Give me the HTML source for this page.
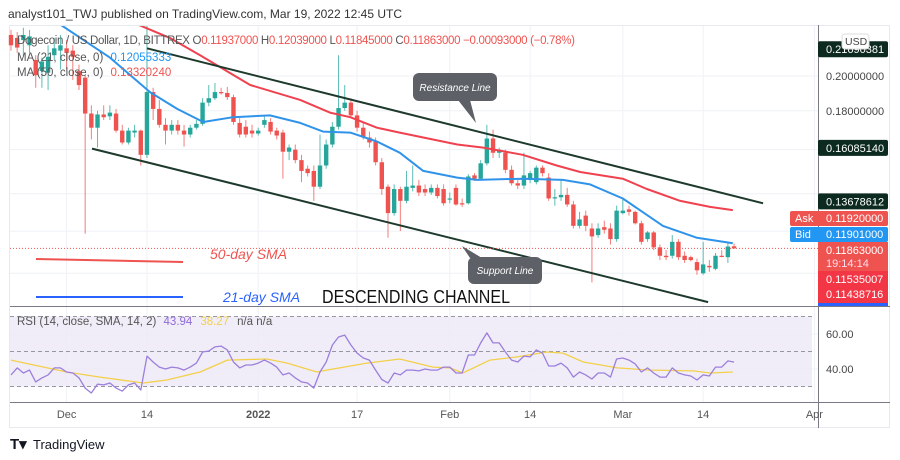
<!DOCTYPE html>
<html><head><meta charset="utf-8"><style>
body{margin:0;background:#fff;width:900px;height:460px;overflow:hidden;font-family:"Liberation Sans",sans-serif}
svg{display:block}
</style></head><body>
<svg id="chart" width="900" height="460" viewBox="0 0 900 460" xmlns="http://www.w3.org/2000/svg" font-family="Liberation Sans, sans-serif">
<text x="8" y="18" font-size="12" fill="#333">analyst101_TWJ published on TradingView.com, Mar 19, 2022 12:45 UTC</text>
<rect x="9.5" y="25.5" width="880" height="402" fill="none" stroke="#e6e9ef"/>
<g id="grid"></g>
<rect x="10" y="316.5" width="802" height="70" fill="#ede9f6" opacity="0.8"/>
<g id="marks"></g>
<g id="overlay"></g>
<line x1="818.5" y1="25" x2="818.5" y2="428" stroke="#787b86" stroke-width="1"/>
<line x1="10" y1="306.5" x2="890" y2="306.5" stroke="#787b86" stroke-width="1"/>
<line x1="10" y1="402.5" x2="890" y2="402.5" stroke="#787b86" stroke-width="1"/>
<g id="axis"></g>
<g font-size="11.5">
<text x="17" y="44" fill="#555" textLength="558" lengthAdjust="spacing">Dogecoin / US Dollar, 1D, BITTREX  O<tspan fill="#ef5350">0.11937000</tspan>  H<tspan fill="#ef5350">0.12039000</tspan>  L<tspan fill="#ef5350">0.11845000</tspan>  C<tspan fill="#ef5350">0.11863000  −0.00093000 (−0.78%)</tspan></text>
<text x="17" y="61" fill="#555">MA (21, close, 0) <tspan fill="#2196f3" dx="4">0.12055333</tspan></text>
<text x="17" y="76" fill="#555">MA (50, close, 0) <tspan fill="#ef5350" dx="4">0.13320240</tspan></text>
<text x="17" y="325" fill="#555">RSI (14, close, SMA, 14, 2) <tspan fill="#8e6bd6" dx="4">43.94</tspan><tspan fill="#f2d04a" dx="8">38.27</tspan><tspan dx="8">n/a  n/a</tspan></text>
</g>
<g>
<path d="M458 100 L476 123 L470 100 Z" fill="#5d6066"/>
<rect x="413" y="73" width="84" height="28" rx="6" fill="#5d6066"/>
<text x="455" y="91" font-size="10" font-style="italic" fill="#fff" text-anchor="middle">Resistance Line</text>
</g>
<g>
<path d="M462 246 L470 258 L482 258 Z" fill="#5d6066"/>
<rect x="468" y="257" width="74" height="27" rx="6" fill="#5d6066"/>
<text x="505" y="274" font-size="10" font-style="italic" fill="#fff" text-anchor="middle">Support Line</text>
</g>
<line x1="36" y1="259" x2="183" y2="262" stroke="#ef5350" stroke-width="2"/>
<line x1="36" y1="297" x2="183" y2="297" stroke="#2962ff" stroke-width="2"/>
<text x="210" y="259" font-size="14" font-style="italic" fill="#ef5350">50-day SMA</text>
<text x="223" y="302" font-size="14" font-style="italic" fill="#2962ff">21-day SMA</text>
<text x="322" y="303" font-size="18" fill="#111" textLength="188" lengthAdjust="spacingAndGlyphs">DESCENDING CHANNEL</text>
<g>
<text x="10" y="449" font-size="15" font-weight="bold" fill="#131722">T▾</text>
<text x="33" y="449" font-size="13" fill="#131722">TradingView</text>
</g>
</svg>
<script>
// ===== data =====
const ohlcOpen  = [.2265,.2245,.223,.2195,.210,.203,.202,.213,.216,.2175,.216,.203,.199,.1785,.171,.178,.177,.1785,.1695,.1635,.1685,.1695,.1575,.1905,.181,.1725,.1695,.1725,.1695,.1675,.171,.173,.1845,.187,.1905,.190,.1876,.1735,.1715,.1695,.168,.1725,.174,.1695,.1685,.159,.160,.155,.151,.150,.143,.1525,.1625,.1715,.1815,.1845,.1775,.171,.166,.164,.154,.143,.132,.142,.137,.1425,.1435,.142,.1405,.1425,.142,.1375,.1425,.136,.136,.148,.1465,.1535,.1655,.1585,.1585,.1505,.1445,.1435,.146,.145,.1515,.147,.138,.1385,.1395,.1355,.127,.131,.126,.1235,.1265,.126,.122,.132,.1335,.1325,.128,.122,.1245,.119,.116,.116,.121,.116,.1155,.1138,.110,.1125,.1115,.1160,.1155,.11937];
const ohlcClose = [.2195,.218,.2265,.2255,.2005,.209,.212,.2175,.2195,.2145,.212,.1946,.1785,.171,.178,.1765,.179,.1695,.1635,.1695,.1695,.1575,.1905,.181,.1725,.1695,.1725,.1695,.1675,.171,.173,.1845,.187,.1905,.190,.1876,.174,.1675,.1675,.168,.1695,.175,.169,.167,.159,.161,.155,.150,.149,.143,.1525,.1625,.1715,.1815,.1845,.1775,.171,.166,.1635,.154,.142,.132,.142,.137,.143,.1435,.1405,.1405,.1425,.139,.136,.138,.1355,.1355,.1475,.1465,.1535,.1655,.1585,.160,.1505,.1445,.1435,.148,.149,.1515,.149,.138,.1385,.1395,.1355,.127,.1295,.127,.123,.126,.1255,.122,.133,.133,.1325,.128,.121,.1245,.119,.116,.1155,.121,.1155,.1145,.1145,.111,.113,.112,.116,.1158,.1193,.11863];
const ohlcHigh  = [.230,.2285,.2315,.230,.213,.2115,.2195,.2245,.2265,.223,.2195,.207,.2005,.183,.180,.183,.183,.181,.1725,.171,.1725,.170,.234,.193,.186,.176,.175,.175,.1725,.1725,.175,.187,.1946,.1958,.193,.1935,.189,.176,.175,.1725,.171,.1775,.176,.171,.170,.1625,.1625,.1575,.1525,.1525,.1675,.165,.174,.213,.1946,.187,.180,.174,.169,.166,.156,.144,.144,.143,.150,.1525,.146,.144,.144,.144,.144,.1405,.144,.138,.1485,.149,.155,.1725,.170,.161,.160,.1525,.146,.1585,.150,.1525,.1525,.149,.142,.146,.1425,.137,.1325,.133,.128,.128,.129,.128,.135,.1375,.135,.133,.129,.125,.125,.120,.118,.1235,.122,.1175,.116,.115,.121,.1145,.117,.118,.1205,.12039];
const ohlcLow   = [.216,.2145,.2125,.2145,.193,.193,.1917,.210,.204,.204,.1976,.1917,.124,.165,.161,.175,.175,.1685,.1625,.1625,.166,.1525,.156,.175,.171,.1625,.1675,.1675,.1615,.166,.170,.172,.1825,.186,.189,.186,.1725,.166,.166,.166,.167,.171,.1675,.165,.1465,.155,.1535,.145,.1475,.137,.142,.151,.161,.170,.180,.176,.169,.165,.161,.1525,.1395,.1225,.131,.125,.136,.141,.139,.139,.1395,.138,.135,.136,.135,.1345,.1355,.1455,.146,.1525,.156,.156,.149,.1435,.142,.142,.1445,.144,.1475,.137,.135,.137,.1345,.126,.126,.125,.107,.1225,.124,.120,.121,.1315,.131,.1275,.120,.121,.118,.1145,.1145,.115,.1145,.1135,.114,.1095,.1095,.1105,.111,.1155,.1135,.11845];
const ma21Points = [[7.9,.234],[16,.2115],[22.5,.1905],[26.9,.181],[31.1,.174],[35.9,.1765],[41.9,.1775],[46.8,.1735],[50.5,.169],[54.9,.1685],[59.2,.164],[62.9,.1585],[66.7,.150],[72.2,.147],[75.4,.146],[82.8,.1465],[89.3,.146],[93.7,.144],[99,.138],[105.5,.127],[111,.1225],[116.8,.1205]];
const ma50Points = [[20.4,.234],[25.7,.2245],[30.6,.213],[38.7,.1946],[46.8,.186],[51.6,.179],[54.9,.1765],[59.2,.171],[62.9,.1685],[72.2,.1625],[76.4,.161],[82.8,.1575],[88.3,.1525],[92.1,.1495],[99,.1465],[102.9,.142],[108.3,.137],[113.1,.1345],[116.8,.1332]];
const upperChannel = [[22,.2175],[121.7,.136]];
const lowerChannel = [[13.1,.1605],[112.8,.1008]];
const rsiValues = [36.6,40.6,37.7,39.4,32.6,34.9,36.6,40.6,40.6,38.3,37.7,34.9,29.1,26.3,31.4,30.9,32.0,29.1,27.4,30.9,32.0,28.0,47.4,44.0,41.1,40.0,41.1,40.6,39.4,41.1,43.4,49.7,50.3,52.6,53.1,50.9,44.0,40.6,42.3,42.3,43.4,45.1,43.4,41.1,36.6,37.7,34.9,32.6,32.0,29.1,38.3,44.0,53.7,58.3,59.4,53.7,49.1,46.3,45.1,39.4,34.0,32.0,37.7,36.6,39.4,39.4,38.9,40.0,39.4,39.4,41.1,41.1,37.7,37.7,48.0,48.0,54.9,60.6,54.9,54.9,49.7,45.1,44.0,47.4,46.9,50.9,49.1,41.7,41.7,43.4,40.6,35.4,38.3,36.6,34.3,37.7,37.7,35.4,45.7,46.3,45.1,42.9,38.3,40.6,37.7,35.4,35.4,40.6,37.7,36.6,36.0,33.7,36.6,36.0,41.1,41.1,44.6,43.94];
const rsiSmaPoints = [[0,45.1],[9,38.3],[14.4,35.4],[21.4,32.0],[25.2,33.7],[30.6,38.3],[35,45.1],[41.4,45.7],[44.7,43.4],[49.5,38.3],[52.1,40.0],[57.6,43.4],[62.9,45.7],[68.3,41.1],[71,40.6],[73.1,37.7],[77.5,45.1],[81.9,46.9],[86.7,49.7],[89.3,49.1],[92.6,44.0],[98.1,40.6],[103.4,39.4],[110.4,38.9],[113.1,37.7],[116.8,38.27]];
const priceGrid = [.2,.18,.16,.14,.125,.11];
const priceTickLabels = ["0.20000000","0.18000000"];
const priceTickValues = [.2,.18];
const rsiTickValues = [60,40];
const rsiTickLabels = ["60.00","40.00"];
const rsiLevels = [70,50,30];
const timeTickIdx = [9,22,40,56,71,84,99,112,130];
const timeTickLabels = ["Dec","14","2022","17","Feb","14","Mar","14","Apr"];
const markerValues = [.2169038,.1608514,.13678612];
const markerLabels = ["0.21690381","0.16085140","0.13678612"];

// ===== axes =====
const NS="http://www.w3.org/2000/svg";
const xOf = i => 11 + i*6.18;
const yOf = p => 76 + Math.log(0.2/p)*330;
const rsiY = v => 334 - (v-60)*1.75;
function mk(tag, attrs, parent){const e=document.createElementNS(NS,tag);for(const k in attrs)e.setAttribute(k,attrs[k]);parent.appendChild(e);return e;}
const gridG=document.getElementById('grid'), marksG=document.getElementById('marks'), ovG=document.getElementById('overlay'), axG=document.getElementById('axis');

timeTickIdx.forEach((t,k)=>{
  const g=mk('line',{x1:xOf(t),x2:xOf(t),y1:26,y2:402,stroke:'#eef1f6'},gridG);
  
  
  const tx=mk('text',{x:xOf(t),y:418,'font-size':11,fill:'#555','text-anchor':'middle','font-weight':timeTickLabels[k]==='2022'?'bold':'normal'},axG);
  tx.textContent=timeTickLabels[k];
  
  
});
priceGrid.forEach(p=>{
  const g=mk('line',{x1:10,x2:818,y1:yOf(p),y2:yOf(p),stroke:'#eef1f6'},gridG);
  
  
});
rsiTickValues.forEach(v=>{
  const g=mk('line',{x1:10,x2:818,y1:rsiY(v),y2:rsiY(v),stroke:'#eef1f6'},gridG);
  
  
});
rsiLevels.forEach(v=>{
  const l=mk('line',{x1:10,x2:812,y1:rsiY(v),y2:rsiY(v),stroke:'#9598a1','stroke-dasharray':'4 3'},marksG);
  
  
});

// candles
ohlcOpen.forEach((o,i)=>{
  const c=ohlcClose[i], h=ohlcHigh[i], l=ohlcLow[i];
  const col = c>=o ? '#26a69a' : '#ef5350';
  const x=xOf(i);
  const w=mk('line',{x1:x,x2:x,y1:Math.max(26,yOf(h)),y2:yOf(l),stroke:col,'stroke-width':1,opacity:0.75},marksG);
  
  
  const bt=Math.min(yOf(o),yOf(c)), bh=Math.max(1.2,Math.abs(yOf(o)-yOf(c)));
  const b=mk('rect',{x:x-2.2,y:bt,width:4.4,height:bh,fill:col},marksG);
  
  
});
const clipEl=mk('clipPath',{id:'mainclip'},ovG);
mk('rect',{x:10,y:26,width:808,height:280},clipEl);
function poly(pts, col, sw, name, yf){
  const d=pts.map((p,k)=>(k?'L':'M')+xOf(p[0]).toFixed(1)+' '+yf(p[1]).toFixed(1)).join(' ');
  const e=mk('path',{d:d,fill:'none',stroke:col,'stroke-width':sw,'stroke-linejoin':'round'},ovG);
  
  
  return e;
}
poly(ma50Points,'#f0414f',2,'ma50-line',yOf).setAttribute('clip-path','url(#mainclip)');
poly(ma21Points,'#2f93ea',2,'ma21-line',yOf).setAttribute('clip-path','url(#mainclip)');
poly(upperChannel,'#1e3a2c',2,'upper-channel-line',yOf);
poly(lowerChannel,'#1e3a2c',2,'lower-channel-line',yOf);
poly(rsiSmaPoints,'#f2d04a',1.3,'rsi-sma-line',rsiY);
poly(rsiValues.map((v,i)=>[i,v]),'#9b7fdc',1.3,'rsi-line',rsiY);
const lastY=yOf(ohlcClose[ohlcClose.length-1]);
const pl=mk('line',{x1:10,x2:818,y1:lastY,y2:lastY,stroke:'#ef5350','stroke-dasharray':'1 2','stroke-width':1},ovG);



// price axis labels
priceTickValues.forEach((p,k)=>{
  const t=mk('text',{x:826,y:yOf(p)+4,'font-size':11,fill:'#444'},axG);
  t.textContent=priceTickLabels[k];
  
  
});
markerValues.forEach((p,k)=>{
  const y=yOf(p);
  const r=mk('rect',{x:818,y:y-8,width:70,height:16,rx:2,fill:'#0c2a20'},axG);
  
  
  const t=mk('text',{x:826,y:y+4,'font-size':11,fill:'#fff'},axG);
  t.textContent=markerLabels[k];
  
  
});
rsiTickValues.forEach((v,k)=>{
  const t=mk('text',{x:826,y:rsiY(v)+4,'font-size':11,fill:'#444'},axG);
  t.textContent=rsiTickLabels[k];
  
  
});
</script>
<div style="position:absolute;left:0;top:0;width:900px;height:460px;pointer-events:none">
<svg width="900" height="460" xmlns="http://www.w3.org/2000/svg" font-family="Liberation Sans, sans-serif" font-size="11">
<g><rect x="842" y="34" width="27" height="15" rx="3" fill="#fff" stroke="#ddd"/><text x="845" y="45" font-size="10.5" fill="#444">USD</text></g>
<g><rect x="790" y="211" width="98" height="15" rx="2" fill="#ef5350"/><text x="795" y="222" fill="#fff">Ask</text><text x="826" y="222" fill="#fff">0.11920000</text></g>
<g><rect x="790" y="227" width="98" height="15" rx="2" fill="#2196f3"/><text x="795" y="238" fill="#fff">Bid</text><text x="826" y="238" fill="#fff">0.11901000</text></g>
<g><rect x="818" y="242" width="70" height="29" fill="#ef5350"/><text x="826" y="254" fill="#fff">0.11863000</text><text x="826" y="267" fill="#fde">19:14:14</text></g>
<g><rect x="818" y="271" width="70" height="32" fill="#f23645"/><text x="826" y="283" fill="#fff">0.11535007</text><text x="826" y="298" fill="#fff">0.11438716</text><rect x="818" y="303" width="70" height="3" fill="#2962ff"/></g>
</svg></div>
</body></html>
